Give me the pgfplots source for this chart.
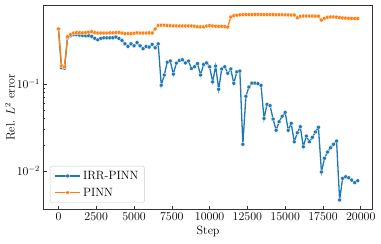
\documentclass[border=0pt]{standalone}
\usepackage{pgfplots}
\pgfplotsset{compat=1.18}
\usepackage{pgfplotstable}
\definecolor{tabblue}{HTML}{1F77B4}
\definecolor{taborange}{HTML}{FF7F0E}
\pgfplotstableread{
x y
0 0.43
200 0.154
400 0.152
600 0.34
800 0.36
1000 0.37
1200 0.37
1400 0.365
1600 0.362
1800 0.359
2000 0.359
2200 0.353
2400 0.335
2600 0.323
2800 0.335
3000 0.34
3200 0.34
3400 0.34
3600 0.34
3800 0.347
4000 0.335
4200 0.318
4400 0.29
4600 0.271
4800 0.29
5000 0.275
5200 0.30
5400 0.275
5600 0.255
5800 0.271
6000 0.266
6200 0.286
6400 0.261
6600 0.29
6800 0.097
7000 0.127
7200 0.178
7400 0.184
7600 0.13
7800 0.174
8000 0.187
8200 0.19
8400 0.175
8600 0.184
8800 0.151
9000 0.158
9200 0.172
9400 0.127
9600 0.168
9800 0.175
10000 0.158
10200 0.106
10400 0.161
10600 0.0869
10800 0.149
11000 0.158
11200 0.133
11400 0.149
11600 0.102
11800 0.138
12000 0.141
12200 0.0203
12400 0.0723
12600 0.0924
12800 0.1026
13000 0.1026
13200 0.101
13400 0.0966
13600 0.0403
13800 0.0585
14000 0.0564
14200 0.0396
14400 0.0294
14600 0.0369
14800 0.0426
15000 0.0473
15200 0.0294
15400 0.0353
15600 0.0217
15800 0.0275
16000 0.0323
16200 0.019
16400 0.0252
16600 0.0217
16800 0.0244
17000 0.0281
17200 0.0318
17400 0.00975
17600 0.014
17800 0.0165
18000 0.0185
18200 0.0203
18400 0.0221
18600 0.00465
18800 0.00824
19000 0.00859
19200 0.00837
19400 0.00788
19600 0.00735
19800 0.00774
}\irrpinn
\pgfplotstableread{
x y
0 0.43
200 0.162
400 0.158
600 0.35
800 0.372
1000 0.386
1200 0.39
1400 0.39
1600 0.388
1800 0.39
2000 0.395
2200 0.40
2400 0.39
2600 0.386
2800 0.386
3000 0.386
3200 0.386
3400 0.388
3600 0.388
3800 0.39
4000 0.392
4200 0.386
4400 0.38
4600 0.38
4800 0.38
5000 0.384
5200 0.388
5400 0.386
5600 0.386
5800 0.386
6000 0.388
6200 0.386
6400 0.43
6600 0.473
6800 0.475
7000 0.475
7200 0.47
7400 0.468
7600 0.466
7800 0.466
8000 0.466
8200 0.466
8400 0.466
8600 0.466
8800 0.466
9000 0.462
9200 0.456
9400 0.455
9600 0.455
9800 0.465
10000 0.47
10200 0.465
10400 0.462
10600 0.46
10800 0.46
11000 0.458
11200 0.452
11400 0.59
11600 0.61
11800 0.62
12000 0.625
12200 0.628
12400 0.63
12600 0.63
12800 0.63
13000 0.632
13200 0.632
13400 0.63
13600 0.63
13800 0.628
14000 0.628
14200 0.628
14400 0.626
14600 0.626
14800 0.626
15000 0.624
15200 0.624
15400 0.622
15600 0.622
15800 0.578
16000 0.60
16200 0.605
16400 0.605
16600 0.605
16800 0.605
17000 0.603
17200 0.603
17400 0.544
17600 0.57
17800 0.585
18000 0.59
18200 0.59
18400 0.588
18600 0.58
18800 0.575
19000 0.572
19200 0.57
19400 0.568
19600 0.566
19800 0.566
}\pinn
\begin{document}
\begin{tikzpicture}
\useasboundingbox (-43.5pt,-34.7pt) rectangle (337.5pt,209.3pt);
\begin{axis}[
  at={(0,0)}, anchor=south west,
  scale only axis,
  width=329.2pt, height=204pt,
  xmin=-990, xmax=20790,
  ymode=log, ymin=0.00363, ymax=0.804,
  scaled x ticks=false,
  xtick={0,2500,5000,7500,10000,12500,15000,17500,20000},
  xticklabels={0,2500,5000,7500,10000,12500,15000,17500,20000},
  ytick={0.01,0.1},
  tick pos=left,
  tick align=inside,
  major tick length=3.5pt,
  minor tick length=2pt,
  tick style={black!80, line width=0.6pt},
  axis line style={black!80, line width=0.8pt},
  ticklabel style={font=\fontsize{12}{14}\selectfont},
  label style={font=\fontsize{12}{14}\selectfont},
  xlabel={Step},
  ylabel={Rel. $L^2$ error},
  xlabel style={at={(axis description cs:0.5,0)}, anchor=center, yshift=-22.4pt},
  ylabel style={at={(axis description cs:0,0.5)}, anchor=center, xshift=0pt, yshift=33.5pt},
  legend style={at={(0,0)}, anchor=south west, xshift=6.5pt, yshift=6.6pt,
    draw=black!20, rounded corners=2pt, fill=white, fill opacity=0.8, text opacity=1,
    font=\fontsize{12}{14}\selectfont, row sep=3pt, inner xsep=4pt, inner ysep=3pt},
  legend cell align=left,
  legend image code/.code={
    \draw[mark repeat=2,mark phase=2] plot coordinates {(0cm,0cm) (0.45cm,0cm) (0.9cm,0cm)};
  },
]
\addplot[tabblue, line width=1.3pt, mark=*, mark size=2pt,
  mark options={fill=tabblue, draw=white, line width=0.3pt}] table[x=x,y=y] {\irrpinn};
\addlegendentry{IRR-PINN}
\addplot[taborange, line width=1.3pt, mark=*, mark size=2pt,
  mark options={fill=taborange, draw=white, line width=0.3pt}] table[x=x,y=y] {\pinn};
\addlegendentry{PINN}
\end{axis}
\end{tikzpicture}
\end{document}
